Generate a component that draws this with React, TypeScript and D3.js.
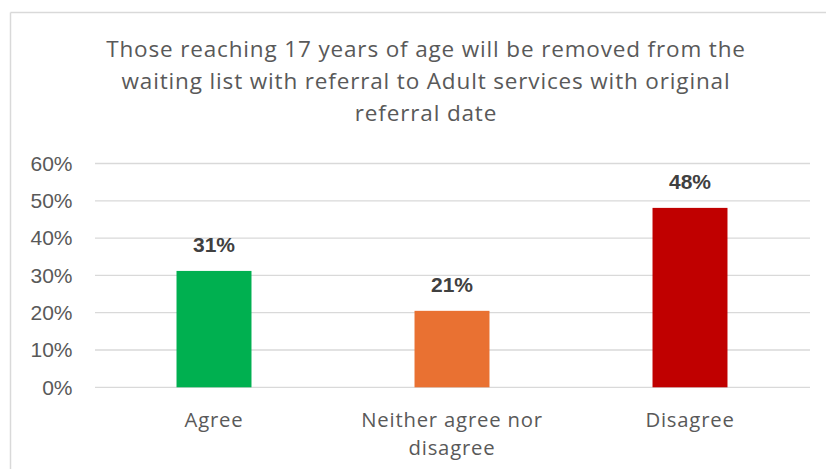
import React from "react";
import * as d3 from "d3";

const categories = ["Agree", "Neither agree nor disagree", "Disagree"];
const values = [0.312, 0.205, 0.481];
const dataLabels = ["31%", "21%", "48%"];
const colors = ["#00B050", "#E97132", "#C00000"];
const yTicks = [0, 0.1, 0.2, 0.3, 0.4, 0.5, 0.6];
const titleLines = [
  "Those reaching 17 years of age will be removed from the",
  "waiting list with referral to Adult services with original",
  "referral date",
];
const categoryLines = [["Agree"], ["Neither agree nor", "disagree"], ["Disagree"]];

const W = 826;
const H = 469;

export default function App() {
  const x = d3.scaleBand<string>().domain(categories).range([95, 809]).paddingInner(0.685).paddingOuter(0.3425);
  const y = d3.scaleLinear().domain([0, 0.6]).range([387.3, 163.5]);
  const fmt = d3.format(".0%");
  const titleFont = "'Open Sans', sans-serif";
  const numFont = "'Liberation Sans', Arial, sans-serif";
  return (
    <div style={{ position: "absolute", left: 0, top: 0 }}>
      <svg width={W} height={H} style={{ display: "block", background: "#fff" }}>
        <rect x={0} y={0} width={W} height={H} fill="#fff" />
        <line x1={10.5} y1={12.5} x2={826} y2={12.5} stroke="#d9d9d9" strokeWidth={1.5} />
        <line x1={10.5} y1={12.5} x2={10.5} y2={469} stroke="#d9d9d9" strokeWidth={1.5} />
        {titleLines.map((t, i) => (
          <text key={i} x={426} y={57 + i * 32} textAnchor="middle" fontFamily={titleFont} fontSize={22.5} letterSpacing={0.85} fill="#595959">
            {t}
          </text>
        ))}
        {yTicks.map((t) => (
          <g key={t}>
            <line x1={95} x2={810} y1={y(t)} y2={y(t)} stroke="#d9d9d9" strokeWidth={1.3} />
            <text x={72.5} y={y(t) + 7.3} textAnchor="end" fontFamily={numFont} fontSize={21} fill="#595959">
              {fmt(t)}
            </text>
          </g>
        ))}
        {categories.map((c, i) => (
          <g key={c}>
            <rect x={x(c)} y={y(values[i])} width={x.bandwidth()} height={y(0) - y(values[i])} fill={colors[i]} />
            <text x={(x(c) as number) + x.bandwidth() / 2} y={y(values[i]) - 19} textAnchor="middle" fontFamily={numFont} fontWeight="bold" fontSize={21} fill="#404040">
              {dataLabels[i]}
            </text>
            {categoryLines[i].map((l, j) => (
              <text key={j} x={(x(c) as number) + x.bandwidth() / 2} y={426.5 + j * 28} textAnchor="middle" fontFamily={titleFont} fontSize={20.3} letterSpacing={0.8} fill="#595959">
                {l}
              </text>
            ))}
          </g>
        ))}
      </svg>
    </div>
  );
}
